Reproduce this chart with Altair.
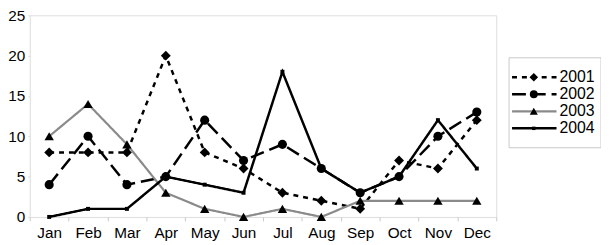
import altair as alt
import pandas as pd

months = ["Jan", "Feb", "Mar", "Apr", "May", "Jun", "Jul", "Aug", "Sep", "Oct", "Nov", "Dec"]
series = ["2001", "2002", "2003", "2004"]
v2001 = [8, 8, 8, 20, 8, 6, 3, 2, 1, 7, 6, 12]
v2002 = [4, 10, 4, 5, 12, 7, 9, 6, 3, 5, 10, 13]
v2003 = [10, 14, 9, 3, 1, 0, 1, 0, 2, 2, 2, 2]
v2004 = [0, 1, 1, 5, 4, 3, 18, 6, 3, 5, 12, 6]

values = {"2001": v2001, "2002": v2002, "2003": v2003, "2004": v2004}

style = {
    "2001": dict(color="black", dash=[5, 5], width=2.5, shape="diamond", size=100, mcolor="black"),
    "2002": dict(color="black", dash=[14, 6], width=2.5, shape="circle", size=85, mcolor="black"),
    "2003": dict(color="#8a8a8a", dash=[1, 0], width=2.2, shape="triangle-up", size=90, mcolor="black"),
    "2004": dict(color="black", dash=[1, 0], width=2.5, shape="square", size=16, mcolor="black"),
}

rows = []
for s in series:
    for m, v in zip(months, values[s]):
        rows.append({"month": m, "value": v, "series": s})
df = pd.DataFrame(rows)
legend_df = pd.DataFrame({"series": series})

xenc = alt.X("month:N", sort=months,
             scale=alt.Scale(type="band", domain=months, paddingInner=0, paddingOuter=0),
             axis=alt.Axis(title=None, labelAngle=0, tickBand="extent", domain=False,
                           tickSize=4, tickColor="#c8c8c8", labelPadding=5,
                           labelFontSize=15.5, labelColor="black"))
yenc = alt.Y("value:Q", scale=alt.Scale(domain=[0, 25], nice=False),
             axis=alt.Axis(title=None, values=[0, 5, 10, 15, 20, 25], grid=False, domain=False,
                           tickSize=2, tickColor="#dddddd", labelPadding=3,
                           labelFontSize=15.5, labelColor="black"))

layers = []
for s in series:
    st = style[s]
    d = df[df.series == s]
    base = alt.Chart(d)
    layers.append(base.mark_line(color=st["color"], strokeWidth=st["width"],
                                 strokeDash=st["dash"]).encode(x=xenc, y=yenc))
for s in series:
    st = style[s]
    d = df[df.series == s]
    base = alt.Chart(d)
    layers.append(base.mark_point(shape=st["shape"], size=st["size"], filled=True,
                                  color=st["mcolor"], opacity=1).encode(x=xenc, y=yenc))

main = alt.layer(*layers)

# manual legend
ly = alt.Y("series:N", sort=series, scale=alt.Scale(type="point", domain=series, range=[54, 123]),
           axis=None)
lbase = alt.Chart(legend_df)
leg_box = alt.Chart(pd.DataFrame({"series": ["box"]})).mark_rect(
    fill="white", stroke="#c8c8c8", strokeWidth=1).encode(
    x=alt.value(485), x2=alt.value(578), y=alt.value(43), y2=alt.value(134))
leg_layers = [leg_box]
for s in series:
    st = style[s]
    b = alt.Chart(legend_df[legend_df.series == s])
    leg_layers.append(b.mark_rule(color=st["color"], strokeWidth=st["width"],
                                  strokeDash=st["dash"]).encode(
        x=alt.value(488), x2=alt.value(533), y=ly))
    leg_layers.append(b.mark_point(shape=st["shape"], size=st["size"] * 0.75, filled=True,
                                   color=st["mcolor"], opacity=1).encode(
        x=alt.value(510), y=ly))
leg_layers.append(lbase.mark_text(align="left", baseline="middle", fontSize=16,
                                  font="Liberation Sans", color="black").encode(
    x=alt.value(536), y=ly, text="series:N"))
legend = alt.layer(*leg_layers)

chart = alt.layer(main, legend).resolve_scale(y="independent").properties(
    width=472, height=204,
    autosize=alt.AutoSizeParams(type="none"),
    padding={"left": 22, "top": 6, "right": 106, "bottom": 27},
).configure_view(stroke="#8c8c8c", strokeWidth=1.5).configure(
    font="Liberation Sans"
).configure_axis(labelFont="Liberation Sans")

chart.save("out.html", embed_options={"renderer": "svg", "actions": False})
